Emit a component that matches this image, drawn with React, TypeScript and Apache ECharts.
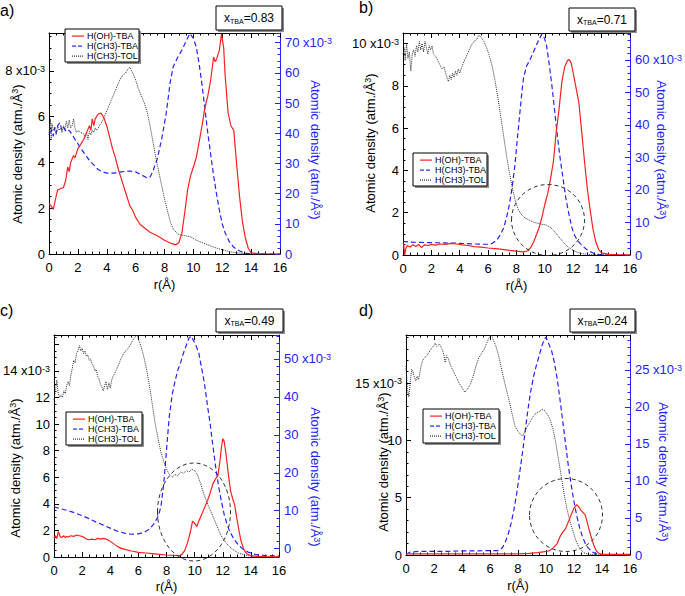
import React, { useEffect, useRef } from "react";
import * as echarts from "echarts";

// ---------- DATA (r in Å, densities in 10^-3 atm./Å^3) ----------
const NAME_OH = "H(OH)-TBA";
const NAME_CH3 = "H(CH3)-TBA";
const NAME_TOL = "H(CH3)-TOL";

const X_TICKS = [0, 2, 4, 6, 8, 10, 12, 14, 16];
const X_TBA = ["0.83", "0.71", "0.49", "0.24"];
const PANEL_TAGS = ["a)", "b)", "c)", "d)"];

// panel a (x_TBA = 0.83)
const A_OH: number[][] = [[0,2.2],[0.15,2.1],[0.3,1.95],[0.45,2.4],[0.6,2.8],[0.8,2.85],[1.0,2.9],[1.15,3.2],[1.3,3.8],[1.4,3.6],[1.5,4.0],[1.7,4.3],[1.8,4.2],[2.0,4.6],[2.2,4.8],[2.4,5.0],[2.6,5.3],[2.8,5.6],[2.9,5.4],[3.0,5.9],[3.1,5.6],[3.2,5.9],[3.4,6.1],[3.6,6.15],[3.8,5.95],[4.0,5.6],[4.2,5.1],[4.4,4.6],[4.6,4.2],[4.8,3.7],[5.0,3.3],[5.2,2.9],[5.4,2.5],[5.6,2.1],[5.8,1.9],[6.0,1.6],[6.3,1.3],[6.6,1.15],[7.0,0.95],[7.5,0.8],[8.0,0.6],[8.5,0.45],[8.8,0.4],[9.0,0.5],[9.2,0.9],[9.4,1.8],[9.6,2.8],[9.8,3.4],[10.0,3.8],[10.2,4.2],[10.4,4.9],[10.6,5.6],[10.8,6.4],[11.0,6.9],[11.2,7.6],[11.4,8.6],[11.5,8.4],[11.6,8.5],[11.8,8.9],[11.95,9.6],[12.1,9.0],[12.2,7.8],[12.4,6.2],[12.6,5.6],[12.8,5.4],[13.0,3.9],[13.2,2.5],[13.4,1.4],[13.6,0.7],[13.8,0.25],[14.0,0.05],[14.5,0.02],[15,0.01],[16,0]];
const A_CH3: number[][] = [[0,40],[0.2,41],[0.3,39],[0.4,42],[0.5,40],[0.6,42.5],[0.75,43.5],[0.9,41],[1.0,42],[1.2,40.5],[1.4,41],[1.6,39.5],[1.8,38],[2.0,36.5],[2.2,35],[2.5,33],[2.8,31],[3.1,29.5],[3.4,28],[3.7,27.2],[4.0,26.8],[4.5,26.8],[5.0,27.2],[5.5,27.5],[6.0,27.2],[6.4,26.2],[6.8,25.2],[7.0,25.5],[7.2,27.5],[7.5,31.5],[7.8,38],[8.1,46],[8.4,57],[8.6,62],[8.9,65],[9.2,67.5],[9.5,70.5],[9.75,73],[10.0,71.5],[10.2,68.5],[10.4,63],[10.6,56],[10.8,48],[11.0,40],[11.2,33],[11.4,26],[11.6,20],[11.8,14.5],[12.0,10],[12.2,7],[12.5,4],[12.8,2.2],[13.2,1],[13.6,0.3],[14,0],[16,0]];
const A_TOL: number[][] = [[0,5.2],[0.1,5.9],[0.15,5.0],[0.2,5.7],[0.3,5.4],[0.4,5.5],[0.5,5.2],[0.6,5.6],[0.7,5.4],[0.8,5.5],[0.9,5.3],[1.0,5.6],[1.1,5.4],[1.2,5.8],[1.3,5.5],[1.4,5.85],[1.5,5.5],[1.6,5.6],[1.7,5.9],[1.8,5.5],[1.9,5.3],[2.0,5.4],[2.2,5.3],[2.4,5.25],[2.5,5.1],[2.6,5.3],[2.7,5.0],[2.8,5.35],[2.9,5.2],[3.0,5.4],[3.1,5.3],[3.2,5.5],[3.3,5.4],[3.5,5.6],[3.7,5.8],[3.9,6.1],[4.1,6.4],[4.3,6.7],[4.5,7.0],[4.7,7.3],[4.9,7.6],[5.1,7.8],[5.3,7.9],[5.5,8.1],[5.6,8.15],[5.8,7.9],[6.0,7.6],[6.2,7.2],[6.4,6.9],[6.6,6.6],[6.8,6.2],[7.0,5.6],[7.2,4.9],[7.4,4.2],[7.6,3.6],[7.8,3.0],[8.0,2.4],[8.2,1.9],[8.4,1.4],[8.6,1.1],[8.8,0.95],[9.0,0.85],[9.4,0.8],[9.8,0.75],[10.2,0.6],[10.6,0.5],[11.0,0.4],[11.4,0.3],[11.8,0.22],[12.2,0.15],[12.6,0.09],[13.0,0.05],[13.5,0.02],[14,0],[16,0]];

// panel b (x_TBA = 0.71)
const B_OH: number[][] = [[0,0.55],[0.05,0.5],[0.12,0.0],[0.2,0.3],[0.3,0.45],[0.5,0.38],[0.7,0.48],[0.9,0.4],[1.1,0.5],[1.3,0.35],[1.5,0.48],[1.8,0.45],[2.0,0.5],[2.3,0.47],[2.6,0.52],[3.0,0.5],[3.4,0.55],[3.8,0.52],[4.2,0.48],[4.6,0.45],[5.0,0.4],[5.5,0.37],[6.0,0.33],[6.5,0.3],[7.0,0.27],[7.5,0.22],[8.0,0.18],[8.5,0.15],[8.8,0.2],[9.0,0.35],[9.2,0.6],[9.4,0.95],[9.6,1.3],[9.8,1.8],[10.0,2.4],[10.2,2.9],[10.4,3.6],[10.6,4.4],[10.8,5.8],[11.0,6.9],[11.2,8.2],[11.4,8.9],[11.6,9.2],[11.7,9.25],[11.85,9.1],[12.0,8.6],[12.2,7.9],[12.4,7.2],[12.6,5.8],[12.8,4.4],[13.0,3.1],[13.2,2.1],[13.4,1.2],[13.6,0.6],[13.8,0.25],[14.0,0.1],[14.5,0.03],[15,0.02],[16,0.01]];
const B_CH3: number[][] = [[0,4.2],[0.5,4.0],[1,3.9],[2,3.8],[3,3.7],[4,3.6],[5,3.4],[5.5,3.3],[6.0,3.3],[6.3,3.6],[6.6,4.5],[6.9,6.5],[7.1,8.4],[7.3,11.5],[7.5,15.5],[7.7,21],[7.9,28],[8.0,33],[8.2,42],[8.4,51],[8.5,54.5],[8.7,58],[9.0,60.5],[9.2,62.5],[9.4,64.5],[9.6,66.5],[9.8,68],[9.9,67.5],[10.1,65],[10.3,59],[10.5,52],[10.7,44],[10.9,36],[11.1,29],[11.3,23],[11.5,17],[11.7,12.5],[11.9,8.5],[12.1,6],[12.3,4.5],[12.5,3.5],[12.8,2.2],[13.1,1.2],[13.4,0.6],[13.8,0.2],[14.2,0.05],[16,0]];
const B_TOL: number[][] = [[0,9.5],[0.1,9.8],[0.15,9.2],[0.25,10.0],[0.35,9.3],[0.45,9.6],[0.55,8.7],[0.65,9.5],[0.75,9.7],[0.85,9.4],[0.95,9.9],[1.05,9.6],[1.15,10.1],[1.25,9.7],[1.35,10.0],[1.45,9.6],[1.55,10.1],[1.65,9.8],[1.75,9.5],[1.85,9.9],[1.95,9.7],[2.05,9.9],[2.15,9.5],[2.3,9.4],[2.45,9.2],[2.6,9.0],[2.75,8.8],[2.9,8.9],[3.0,8.6],[3.1,8.4],[3.2,8.2],[3.3,8.5],[3.4,8.3],[3.5,8.6],[3.6,8.4],[3.7,8.7],[3.8,8.5],[3.9,8.8],[4.0,8.6],[4.2,9.0],[4.4,9.3],[4.6,9.6],[4.8,9.9],[5.0,10.1],[5.2,10.2],[5.35,10.4],[5.5,10.3],[5.7,10.1],[5.9,9.8],[6.1,9.4],[6.3,8.9],[6.5,8.2],[6.7,7.4],[6.9,6.5],[7.1,5.6],[7.3,4.7],[7.5,3.9],[7.7,3.2],[7.9,2.6],[8.1,2.2],[8.3,1.95],[8.6,1.75],[8.9,1.65],[9.2,1.55],[9.5,1.5],[9.8,1.45],[10.1,1.42],[10.4,1.3],[10.7,1.1],[11.0,0.85],[11.3,0.6],[11.6,0.4],[11.9,0.25],[12.2,0.15],[12.6,0.07],[13.0,0.03],[13.5,0.01],[16,0]];

// panel c (x_TBA = 0.49)
const C_OH: number[][] = [[0,1.4],[0.1,1.6],[0.2,1.4],[0.3,1.9],[0.35,1.8],[0.45,1.5],[0.6,1.5],[0.7,1.6],[0.8,1.45],[0.9,1.55],[1.0,1.5],[1.2,1.6],[1.4,1.55],[1.6,1.65],[1.8,1.6],[2.0,1.55],[2.1,1.5],[2.3,1.35],[2.5,1.3],[2.7,1.35],[2.9,1.3],[3.1,1.4],[3.3,1.35],[3.5,1.4],[3.7,1.35],[3.9,1.25],[4.1,1.1],[4.3,0.95],[4.5,0.8],[4.8,0.65],[5.1,0.55],[5.5,0.45],[6.0,0.35],[6.5,0.3],[7.0,0.25],[7.5,0.2],[8.0,0.15],[8.5,0.12],[8.9,0.1],[9.1,0.2],[9.3,0.5],[9.5,1.1],[9.7,1.9],[9.85,2.7],[9.95,2.6],[10.15,2.3],[10.3,2.7],[10.5,3.2],[10.7,3.7],[10.9,4.2],[11.1,4.8],[11.3,5.5],[11.5,5.9],[11.65,6.1],[11.8,7.2],[11.9,8.2],[12.0,8.9],[12.1,8.7],[12.25,7.6],[12.4,6.2],[12.55,5.0],[12.7,4.4],[12.85,3.9],[13.0,2.9],[13.15,2.0],[13.3,1.2],[13.5,0.55],[13.7,0.25],[14.0,0.1],[14.5,0.04],[15,0.02],[16,0.01]];
const C_CH3: number[][] = [[0,11.0],[0.5,10.5],[1.0,10.0],[1.5,9.4],[2.0,8.7],[2.5,7.9],[3.0,7.0],[3.5,6.2],[4.0,5.4],[4.5,4.6],[5.0,4.1],[5.5,3.8],[6.0,3.9],[6.4,4.3],[6.8,5.2],[7.1,6.5],[7.4,8.5],[7.6,11],[7.8,17],[8.0,26],[8.2,35],[8.4,40.5],[8.6,44],[8.8,47],[9.0,49],[9.2,51.5],[9.4,53.5],[9.6,55.5],[9.75,56],[9.9,55],[10.1,53.5],[10.3,51.5],[10.5,47.5],[10.7,43.5],[10.9,38],[11.1,33],[11.3,27],[11.5,21.5],[11.7,16.5],[11.9,12.5],[12.1,9],[12.3,6.5],[12.5,4.5],[12.8,2.5],[13.1,1.0],[13.4,0],[13.8,-0.9],[14.3,-1.5],[15,-1.8],[16,-1.9]];
const C_TOL: number[][] = [[0,11.8],[0.1,12.5],[0.2,13.3],[0.3,12.3],[0.4,12.0],[0.5,12.2],[0.6,12.0],[0.7,12.5],[0.8,12.3],[0.9,12.9],[1.0,13.2],[1.1,12.9],[1.2,13.7],[1.3,14.2],[1.4,14.8],[1.5,14.6],[1.6,15.3],[1.7,15.5],[1.8,15.9],[1.9,15.5],[2.0,15.7],[2.1,15.3],[2.2,15.5],[2.3,15.1],[2.4,15.2],[2.5,14.8],[2.6,14.9],[2.7,14.5],[2.8,14.4],[2.9,14.0],[3.0,14.1],[3.1,13.6],[3.2,13.4],[3.3,13.0],[3.4,12.8],[3.5,12.5],[3.6,12.9],[3.7,13.2],[3.8,12.6],[3.9,13.1],[4.0,12.7],[4.1,13.3],[4.2,13.6],[4.4,14.0],[4.6,14.5],[4.8,15.0],[5.0,15.4],[5.2,15.6],[5.4,15.9],[5.6,16.3],[5.8,16.6],[5.9,16.7],[6.0,16.4],[6.2,15.8],[6.4,15.0],[6.6,14.0],[6.8,12.8],[7.0,11.4],[7.2,10.0],[7.4,8.9],[7.6,7.9],[7.8,7.2],[8.0,6.6],[8.2,6.2],[8.4,6.0],[8.6,6.2],[8.8,6.1],[9.0,6.4],[9.2,6.3],[9.4,6.5],[9.6,6.4],[9.8,6.6],[10.0,6.5],[10.2,6.2],[10.4,5.6],[10.6,4.9],[10.8,4.3],[11.0,3.8],[11.2,3.3],[11.4,2.8],[11.6,2.3],[11.8,1.8],[12.0,1.4],[12.2,1.1],[12.5,0.75],[12.8,0.5],[13.1,0.3],[13.4,0.2],[13.8,0.1],[14.3,0.05],[15,0.02],[16,0]];

// panel d (x_TBA = 0.24)
const D_OH: number[][] = [[0,0.1],[1,0.1],[2,0.1],[3,0.1],[4,0.1],[5,0.1],[6,0.1],[7,0.1],[8,0.1],[8.8,0.15],[9.4,0.2],[9.8,0.28],[10.2,0.35],[10.5,0.6],[10.8,1.0],[11.0,1.6],[11.2,2.0],[11.4,2.3],[11.6,2.9],[11.8,3.5],[12.0,4.1],[12.2,4.4],[12.35,4.2],[12.5,3.9],[12.8,3.5],[13.0,2.6],[13.2,1.7],[13.4,0.9],[13.6,0.35],[13.8,0.12],[14,0.06],[15,0.05],[16,0.05]];
const D_CH3: number[][] = [[0,0.1],[0.3,0.4],[1,0.5],[2,0.5],[3,0.5],[4,0.55],[5,0.55],[6,0.6],[6.6,0.6],[6.9,1.0],[7.1,1.8],[7.3,2.8],[7.5,4.2],[7.7,6],[7.9,8.2],[8.1,10.8],[8.3,13.5],[8.5,16.5],[8.7,19.5],[8.9,22],[9.1,24],[9.3,25.5],[9.5,26.8],[9.7,28.2],[9.9,29.2],[10.0,29.4],[10.2,28.5],[10.4,27.6],[10.6,26],[10.8,23.8],[11.0,21],[11.2,18],[11.4,15],[11.6,12],[11.8,9.5],[12.0,7.2],[12.2,5.3],[12.4,3.7],[12.6,2.5],[12.8,1.6],[13.0,1.0],[13.3,0.4],[13.6,0.15],[14,0.05],[16,0]];
const D_TOL: number[][] = [[0,16.5],[0.1,14.5],[0.2,13.8],[0.3,15.0],[0.4,16.2],[0.5,16.0],[0.6,15.5],[0.7,15.2],[0.8,15.6],[0.9,15.3],[1.0,16.0],[1.1,16.6],[1.2,17.0],[1.4,17.3],[1.6,17.6],[1.8,18.0],[2.0,18.3],[2.1,18.5],[2.2,18.2],[2.4,18.4],[2.6,17.9],[2.7,17.5],[2.8,16.8],[2.9,17.4],[3.0,17.2],[3.2,16.5],[3.4,16.0],[3.6,15.5],[3.8,15.0],[4.0,14.6],[4.2,14.2],[4.4,14.5],[4.6,14.9],[4.8,15.6],[5.0,16.5],[5.2,17.2],[5.4,17.6],[5.6,18.0],[5.8,18.6],[6.0,19.1],[6.1,19.2],[6.2,18.9],[6.4,18.3],[6.6,17.5],[6.8,16.4],[7.0,15.3],[7.2,14.3],[7.4,13.3],[7.6,12.2],[7.8,11.2],[8.0,10.8],[8.2,10.5],[8.35,10.4],[8.5,10.8],[8.7,11.3],[8.9,11.7],[9.1,12.1],[9.3,12.4],[9.5,12.5],[9.7,12.7],[9.9,12.6],[10.1,12.3],[10.3,11.8],[10.5,11.0],[10.7,9.8],[10.9,8.3],[11.1,6.8],[11.3,5.3],[11.5,4.0],[11.7,3.0],[11.9,2.2],[12.1,1.4],[12.3,0.8],[12.5,0.45],[12.7,0.2],[13.0,0.08],[13.5,0.02],[16,0]];

// axis ranges per panel: [min, max, interval, minorSplit, top labelled tick carrying "x10-3"]
const LEFT_RANGE = [[0, 9.65, 2, 4, 8], [0, 10.5, 2, 4, 10], [0, 16.7, 2, 4, 14], [0, 19.2, 5, 5, 15]];
const RIGHT_RANGE = [[0, 73.2, 10, 5, 70], [0, 68.3, 10, 5, 60], [-2.2, 56.3, 10, 5, 50], [0, 29.7, 5, 5, 25]];

const OH = [A_OH, B_OH, C_OH, D_OH];
const CH3 = [A_CH3, B_CH3, C_CH3, D_CH3];
const TOL = [A_TOL, B_TOL, C_TOL, D_TOL];

// ---------- LAYOUT ----------
const FONT = "'Liberation Sans', Arial, sans-serif";
const BLUE = "#2222ff";
const RED = "#ff1f1f";
const DARK = "#333333";
const GRIDS = [
  { left: 49, top: 33, width: 231, height: 221 },
  { left: 403, top: 33, width: 233, height: 222 },
  { left: 49, top: 335, width: 230, height: 222 },
  { left: 406, top: 335, width: 230, height: 220 },
];
const LEGEND_BOX = [[65, 29, 74, 33], [413, 153, 74, 33], [66, 412, 76, 33], [423, 409, 76, 34]];
const BOX_POS = [[216, 6, 66, 24], [569, 8, 66, 23], [216, 309, 67, 23], [570, 309, 65, 23]];
const TAG_POS = [[0, 2], [359, -1], [0, 302], [359, 302]];
const LNAME_POS = [[17, 154], [370, 143], [15, 468], [383, 462]];
const RNAME_POS = [[315, 150], [661, 150], [315, 477], [663, 472]];
const XNAME_GAP = [24, 24, 23, 24];
const ELLIPSES = [null, [548, 220, 36.5, 35.5], [194, 512, 36.5, 49], [566, 515, 36.5, 36.5]];

const isMult = (v: number, iv: number) => Math.abs(v / iv - Math.round(v / iv)) < 1e-6;
const fmt = (R: number[]) => (v: number) => {
  if (!isMult(v, R[2]) || v > R[4] + 1e-6) return "";
  const n = Math.round(v);
  return Math.abs(v - R[4]) < 1e-6 ? `${n} x10{sup|-3}` : `${n}`;
};

// a framed white box with a hard drop shadow (no SVG filters)
const shadowBox = (x: number, y: number, w: number, h: number, z: number) => [
  { type: "rect", z, silent: true, shape: { x: x + 2, y: y + 2, width: w, height: h }, style: { fill: "#8c8c8c" } },
  { type: "rect", z: z + 1, silent: true, shape: { x, y, width: w, height: h }, style: { fill: "#ffffff", stroke: "#000000", lineWidth: 1 } },
];

// legend key drawn as small filled segments: [start, length] pairs along a 12px key
const KEY_SEGMENTS = [
  [[0, 12]],
  [[0, 4], [6, 4]],
  [[0, 1], [2, 1], [4, 1], [6, 1], [8, 1], [10, 1]],
];

export default function App() {
  const ref = useRef<HTMLDivElement>(null);
  useEffect(() => {
    if (!ref.current) return;
    const chart = echarts.init(ref.current, null, { renderer: "svg" });
    const xAxes: any[] = [];
    const yAxes: any[] = [];
    const series: any[] = [];
    const graphics: any[] = [];
    GRIDS.forEach((g, i) => {
      xAxes.push({
        gridIndex: i, type: "value", min: X_TICKS[0], max: X_TICKS[X_TICKS.length - 1], interval: 2, position: "bottom",
        splitLine: { show: false },
        axisLine: { show: true, onZero: false, lineStyle: { color: "#000", width: 1 } },
        axisTick: { show: true, inside: true, length: 5, lineStyle: { color: "#000" } },
        minorTick: { show: true, splitNumber: 4, length: 2.5, lineStyle: { color: "#000" } },
        axisLabel: { color: "#000", fontSize: 13, fontFamily: FONT, margin: 7 },
        name: "r(Å)", nameLocation: "middle", nameGap: XNAME_GAP[i],
        nameTextStyle: { color: "#000", fontSize: 13, fontFamily: FONT },
      });
      const L = LEFT_RANGE[i];
      const R = RIGHT_RANGE[i];
      yAxes.push({
        gridIndex: i, type: "value", position: "left", min: L[0], max: L[1], minInterval: L[2], maxInterval: L[2], splitNumber: 5,
        splitLine: { show: false },
        axisLine: { show: true, onZero: false, lineStyle: { color: "#000" } },
        axisTick: { show: true, inside: true, length: 5, lineStyle: { color: "#000" } },
        minorTick: { show: true, splitNumber: L[3], length: 2.5, lineStyle: { color: "#000" } },
        axisLabel: {
          color: "#000", fontSize: 13, fontFamily: FONT, margin: 4, formatter: fmt(L),
          rich: { sup: { fontSize: 9, verticalAlign: "top", color: "#000", fontFamily: FONT } },
        },
      });
      yAxes.push({
        gridIndex: i, type: "value", position: "right", min: R[0], max: R[1], minInterval: R[2], maxInterval: R[2], splitNumber: 5,
        splitLine: { show: false },
        axisLine: { show: true, onZero: false, lineStyle: { color: BLUE } },
        axisTick: { show: true, inside: true, length: 5, lineStyle: { color: BLUE } },
        minorTick: { show: true, splitNumber: R[3], length: 2.5, lineStyle: { color: BLUE } },
        axisLabel: {
          color: BLUE, fontSize: 13, fontFamily: FONT, margin: 5, formatter: fmt(R),
          rich: { sup: { fontSize: 9, verticalAlign: "top", color: BLUE, fontFamily: FONT } },
        },
      });
    });
    // mirror top axes
    GRIDS.forEach((g, i) => {
      xAxes.push({
        gridIndex: i, type: "value", position: "top", min: 0, max: 16, interval: 2,
        splitLine: { show: false }, axisLabel: { show: false },
        axisLine: { show: true, onZero: false, lineStyle: { color: "#000" } },
        axisTick: { show: true, inside: true, length: 5, lineStyle: { color: "#000" } },
        minorTick: { show: true, splitNumber: 4, length: 2.5, lineStyle: { color: "#000" } },
      });
    });
    const legendRows = [
      { name: NAME_OH, color: RED },
      { name: NAME_CH3, color: BLUE },
      { name: NAME_TOL, color: DARK },
    ];
    GRIDS.forEach((g, i) => {
      series.push({
        type: "line", name: NAME_OH, xAxisIndex: i, yAxisIndex: 2 * i, data: OH[i], showSymbol: false, symbol: "none",
        lineStyle: { color: RED, width: 1.2 }, itemStyle: { color: RED }, z: 3,
      });
      series.push({
        type: "line", name: NAME_CH3, xAxisIndex: i, yAxisIndex: 2 * i + 1, data: CH3[i], showSymbol: false, symbol: "none",
        lineStyle: { color: BLUE, width: 1.2, type: [5, 3] }, itemStyle: { color: BLUE }, z: 2,
      });
      series.push({
        type: "line", name: NAME_TOL, xAxisIndex: i, yAxisIndex: 2 * i, data: TOL[i], showSymbol: false, symbol: "none",
        lineStyle: { color: DARK, width: 1, type: [1, 1] }, itemStyle: { color: DARK }, z: 2,
      });
      // legend box (drawn)
      const lb = LEGEND_BOX[i];
      const rowH = (lb[3] - 3) / 3;
      graphics.push(...shadowBox(lb[0], lb[1], lb[2], lb[3], 50));
      legendRows.forEach((r, k) => {
        const cy = Math.round(lb[1] + 1.5 + rowH * (k + 0.5));
        KEY_SEGMENTS[k].forEach((s) => {
          graphics.push({ type: "rect", z: 53, silent: true, shape: { x: lb[0] + 7 + s[0], y: cy - 0.5, width: s[1], height: 1.2 },
            style: { fill: r.color } });
        });
        graphics.push({ type: "text", z: 53, silent: true, x: lb[0] + 22, y: cy,
          style: { text: r.name, fontSize: 9, fontFamily: FONT, fill: "#000", verticalAlign: "middle", align: "left" } });
      });
      // panel tag
      graphics.push({ type: "text", z: 53, silent: true, x: TAG_POS[i][0], y: TAG_POS[i][1], style: { text: PANEL_TAGS[i], fontSize: 16, fontFamily: FONT, fill: "#000", verticalAlign: "top" } });
      // x_TBA box
      const b = BOX_POS[i];
      graphics.push(...shadowBox(b[0], b[1], b[2], b[3], 50));
      graphics.push({ type: "text", z: 53, silent: true, x: b[0] + b[2] / 2, y: b[1] + b[3] / 2, style: {
        text: `x{sub|TBA}=${X_TBA[i]}`, align: "center", verticalAlign: "middle", fontSize: 12, fontFamily: FONT, fill: "#000",
        rich: { sub: { fontSize: 7, verticalAlign: "bottom", fontFamily: FONT, fill: "#000", padding: [6, 0, 0, 0] } },
      } });
      // axis names
      graphics.push({ type: "text", z: 53, silent: true, x: LNAME_POS[i][0], y: LNAME_POS[i][1], rotation: Math.PI / 2, style: {
        text: "Atomic density (atm./Å{sup|3})", align: "center", verticalAlign: "middle", fontSize: 13, fontFamily: FONT, fill: "#000",
        rich: { sup: { fontSize: 9, verticalAlign: "top", fill: "#000", fontFamily: FONT } } } });
      graphics.push({ type: "text", z: 53, silent: true, x: RNAME_POS[i][0], y: RNAME_POS[i][1], rotation: -Math.PI / 2, style: {
        text: "Atomic density (atm./Å{sup|3})", align: "center", verticalAlign: "middle", fontSize: 13, fontFamily: FONT, fill: BLUE,
        rich: { sup: { fontSize: 9, verticalAlign: "top", fill: BLUE, fontFamily: FONT } } } });
      const e = ELLIPSES[i];
      if (e) {
        graphics.push({ type: "ellipse", z: 10, silent: true, shape: { cx: e[0], cy: e[1], rx: e[2], ry: e[3] },
          style: { fill: "none", stroke: "#333", lineWidth: 1, lineDash: [4, 3] } });
      }
    });
    chart.setOption({
      animation: false,
      backgroundColor: "#fff",
      textStyle: { fontFamily: FONT },
      grid: GRIDS.map((g) => ({ ...g, containLabel: false })),
      xAxis: xAxes,
      yAxis: yAxes,
      series,
      graphic: graphics,
    });
    return () => chart.dispose();
  }, []);
  return <div ref={ref} style={{ position: "absolute", left: 0, top: 0, width: 685, height: 596 }} />;
}
